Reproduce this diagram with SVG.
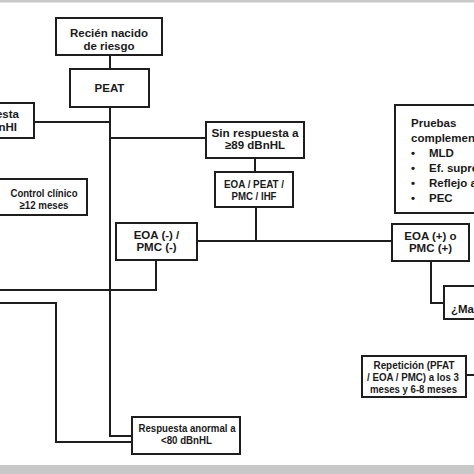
<svg xmlns="http://www.w3.org/2000/svg" width="474" height="474" viewBox="0 0 474 474">
<style>
.box{fill:#fff;stroke:#1e1e1e;stroke-width:2}
.ln{fill:none;stroke:#1e1e1e;stroke-width:2}
text{font-family:"Liberation Sans",Arial,sans-serif;font-weight:bold;fill:#1a1a1a;font-size:11.5px}
.c{text-anchor:middle}
</style>
<rect x="0" y="0" width="474" height="474" fill="#fff"/>
<rect x="0" y="0" width="474" height="2.5" fill="#c8c8c8"/>
<rect x="0" y="465" width="474" height="9" fill="#c8c8c8"/>
<g id="connectors">
<path class="ln" d="M110 55V69"/>
<path class="ln" d="M110 107V436H132"/>
<path class="ln" d="M110 122H34"/>
<path class="ln" d="M110 138H206"/>
<path class="ln" d="M255 158V172"/>
<path class="ln" d="M256 207V241"/>
<path class="ln" d="M197 241H392"/>
<path class="ln" d="M156 260V290H0"/>
<path class="ln" d="M0 303H56V442H132"/>
<path class="ln" d="M431 261V303H444"/>
<path class="ln" d="M466 375H474"/>
</g>
<g id="n-recien">
<rect class="box" x="56" y="18" width="106" height="37"/>
<text class="c" x="109" y="36.5" font-size="13">Recién nacido</text>
<text class="c" x="109" y="49.5" font-size="13">de riesgo</text>
</g>
<g id="n-peat">
<rect class="box" x="70" y="69" width="79" height="38"/>
<text class="c" x="109.5" y="92" font-size="12">PEAT</text>
</g>
<g id="n-left">
<rect class="box" x="-10" y="103" width="44" height="35"/>
<text x="19" y="118" text-anchor="end">Respuesta</text>
<text x="17" y="131" text-anchor="end">dBnHI</text>
</g>
<g id="n-sin">
<rect class="box" x="206" y="122" width="98" height="36"/>
<text class="c" x="255" y="137" textLength="87" lengthAdjust="spacingAndGlyphs">Sin respuesta a</text>
<text class="c" x="255" y="149">≥89 dBnHL</text>
</g>
<g id="n-eoapeat">
<rect class="box" x="215" y="172" width="78" height="35"/>
<text class="c" x="254" y="188" textLength="60" lengthAdjust="spacingAndGlyphs">EOA / PEAT /</text>
<text class="c" x="254" y="200" textLength="45" lengthAdjust="spacingAndGlyphs">PMC / IHF</text>
</g>
<g id="n-control">
<rect class="box" x="-10" y="179" width="97" height="36"/>
<text class="c" x="44" y="197" textLength="67" lengthAdjust="spacingAndGlyphs">Control clínico</text>
<text class="c" x="44" y="208.5" textLength="49" lengthAdjust="spacingAndGlyphs">≥12 meses</text>
</g>
<g id="n-eoaneg">
<rect class="box" x="116" y="223" width="81" height="37"/>
<text class="c" x="156.5" y="239">EOA (-) /</text>
<text class="c" x="156.5" y="251">PMC (-)</text>
</g>
<g id="n-eoapos">
<rect class="box" x="392" y="224" width="77" height="37"/>
<text class="c" x="430.5" y="239.5">EOA (+) o</text>
<text class="c" x="430.5" y="251.5">PMC (+)</text>
</g>
<g id="n-pruebas">
<rect class="box" x="395" y="105" width="100" height="108"/>
<text x="411" y="127">Pruebas</text>
<text x="411" y="142">complementarias</text>
<text x="411" y="157">•</text><text x="429" y="157">MLD</text>
<text x="411" y="172">•</text><text x="429" y="172">Ef. supresor</text>
<text x="411" y="187">•</text><text x="429" y="187">Reflejo acústico</text>
<text x="411" y="202">•</text><text x="429" y="202">PEC</text>
</g>
<g id="n-mac">
<rect class="box" x="444" y="286" width="50" height="33"/>
<text x="451" y="313" font-size="11">¿Maduración?</text>
</g>
<g id="n-repeticion">
<rect class="box" x="362" y="356" width="104" height="41"/>
<text class="c" x="414" y="369" textLength="81" lengthAdjust="spacingAndGlyphs">Repetición (PFAT</text>
<text class="c" x="413" y="381" textLength="92" lengthAdjust="spacingAndGlyphs">/ EOA / PMC) a los 3</text>
<text class="c" x="413.5" y="393" textLength="87" lengthAdjust="spacingAndGlyphs">meses y 6-8 meses</text>
</g>
<g id="n-respuesta">
<rect class="box" x="132" y="417" width="108" height="37"/>
<text class="c" x="187" y="432" textLength="97" lengthAdjust="spacingAndGlyphs">Respuesta anormal a</text>
<text class="c" x="186.5" y="444" textLength="51" lengthAdjust="spacingAndGlyphs">&lt;80 dBnHL</text>
</g>
</svg>
